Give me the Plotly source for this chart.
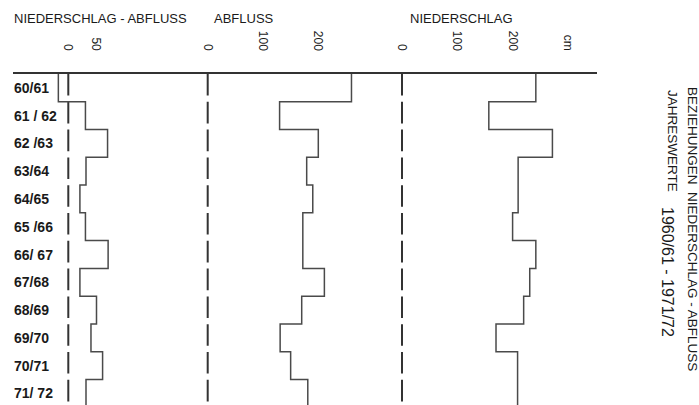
import plotly.graph_objects as go

# Jahreswerte 1960/61 - 1971/72 (cm)
years = ["60/61", "61 / 62", "62 /63", "63/64", "64/65", "65 /66",
         "66/ 67", "67/68", "68/69", "69/70", "70/71", "71/ 72"]
niederschlag = [242, 157, 272, 210, 210, 200, 242, 231, 220, 170, 209, 209]
abfluss = [260, 130, 200, 179, 190, 172, 172, 211, 170, 131, 150, 181]
differenz = [-18, 31, 71, 32, 21, 31, 72, 21, 51, 41, 62, 32]

panel_titles = ["NIEDERSCHLAG - ABFLUSS", "ABFLUSS", "NIEDERSCHLAG"]
panel_ticks = [[0, 50], [0, 100, 200], [0, 100, 200, 300]]
panel_ticktext = [["0", "50"], ["0", "100", "200"], ["0", "100", "200", "cm"]]

W, H = 699, 405
TOP = 74
PX_PER_CM = 0.553
ROW_PX = 27.77

# panel placement in pixels: (left edge, right edge, zero position)
panels = [(13, 200, 68.3), (200, 398, 207.7), (398, 597, 402.0)]
series = [differenz, abfluss, niederschlag]

LINE = "#4a4a4a"
TEXT = "#1a1a1a"
FONT = "Liberation Sans, Arial, sans-serif"


def steps(values):
    xs, ys = [], []
    for i, v in enumerate(values):
        xs += [v, v]
        ys += [i, i + 1]
    return xs, ys


fig = go.Figure()
n_rows = len(years)
for k, vals in enumerate(series):
    ax = "x" if k == 0 else f"x{k + 1}"
    # dashed zero line
    fig.add_trace(go.Scatter(
        x=[0, 0], y=[0, n_rows], xaxis=ax, yaxis="y", mode="lines",
        line=dict(color="#333333", width=2, dash="21.6px,6.2px"),
        hoverinfo="skip", showlegend=False,
    ))
    xs, ys = steps(vals)
    fig.add_trace(go.Scatter(
        x=xs, y=ys, xaxis=ax, yaxis="y", mode="lines",
        line=dict(color=LINE, width=1.5),
        name=panel_titles[k], showlegend=False,
    ))

layout = dict(
    width=W, height=H,
    margin=dict(l=0, r=0, t=TOP, b=0, autoexpand=False),
    paper_bgcolor="white", plot_bgcolor="white",
    showlegend=False,
    yaxis=dict(range=[(H - TOP) / ROW_PX, 0], visible=False,
               showgrid=False, zeroline=False),
)
for k, (left, right, zero) in enumerate(panels):
    key = "xaxis" if k == 0 else f"xaxis{k + 1}"
    layout[key] = dict(
        domain=[left / W, right / W],
        range=[(left - zero) / PX_PER_CM, (right - zero) / PX_PER_CM],
        anchor="y", side="top", automargin=False,
        showline=True, linecolor="#333333", linewidth=2,
        showgrid=False, zeroline=False,
        tickmode="array", tickvals=panel_ticks[k], ticktext=panel_ticktext[k],
        ticks="outside", ticklen=17, tickcolor="rgba(0,0,0,0)",
        tickangle=90, tickfont=dict(family=FONT, size=12, color=TEXT),
    )
fig.update_layout(**layout)

# panel titles
title_y = 1 + (TOP - 18) / (H - TOP)
title_x = [12, 212, 408]
for k, t in enumerate(panel_titles):
    fig.add_annotation(text=t, xref="paper", yref="paper",
                       x=title_x[k] / W, y=title_y, xanchor="left", yanchor="middle",
                       showarrow=False, font=dict(family=FONT, size=13, color=TEXT))

# year labels
for i, yl in enumerate(years):
    fig.add_annotation(text=yl, xref="paper", yref="y",
                       x=12 / W, y=i + 0.5, xanchor="left", yanchor="middle",
                       showarrow=False,
                       font=dict(family=FONT, size=14, color=TEXT, weight="bold"))

# rotated title block on the right (pieces: text, x centre px, top px, size)
side_titles = [
    ("BEZIEHUNGEN&nbsp;&nbsp;NIEDERSCHLAG - ABFLUSS", 693, 85, 13.5),
    ("JAHRESWERTE", 673, 88, 13.5),
    ("1960/61 - 1971/72", 668, 205, 16),
]
for t, x, y, s in side_titles:
    fig.add_annotation(text=t, xref="paper", yref="paper",
                       x=x / W, y=1 - (y - TOP) / (H - TOP),
                       xanchor="center", yanchor="top", textangle=90,
                       showarrow=False, font=dict(family=FONT, size=s, color=TEXT))

# the page's default body margin would shift the figure by 8px
fig.write_html("out.html", config={"displayModeBar": False},
               post_script="document.body.style.margin='0';")
